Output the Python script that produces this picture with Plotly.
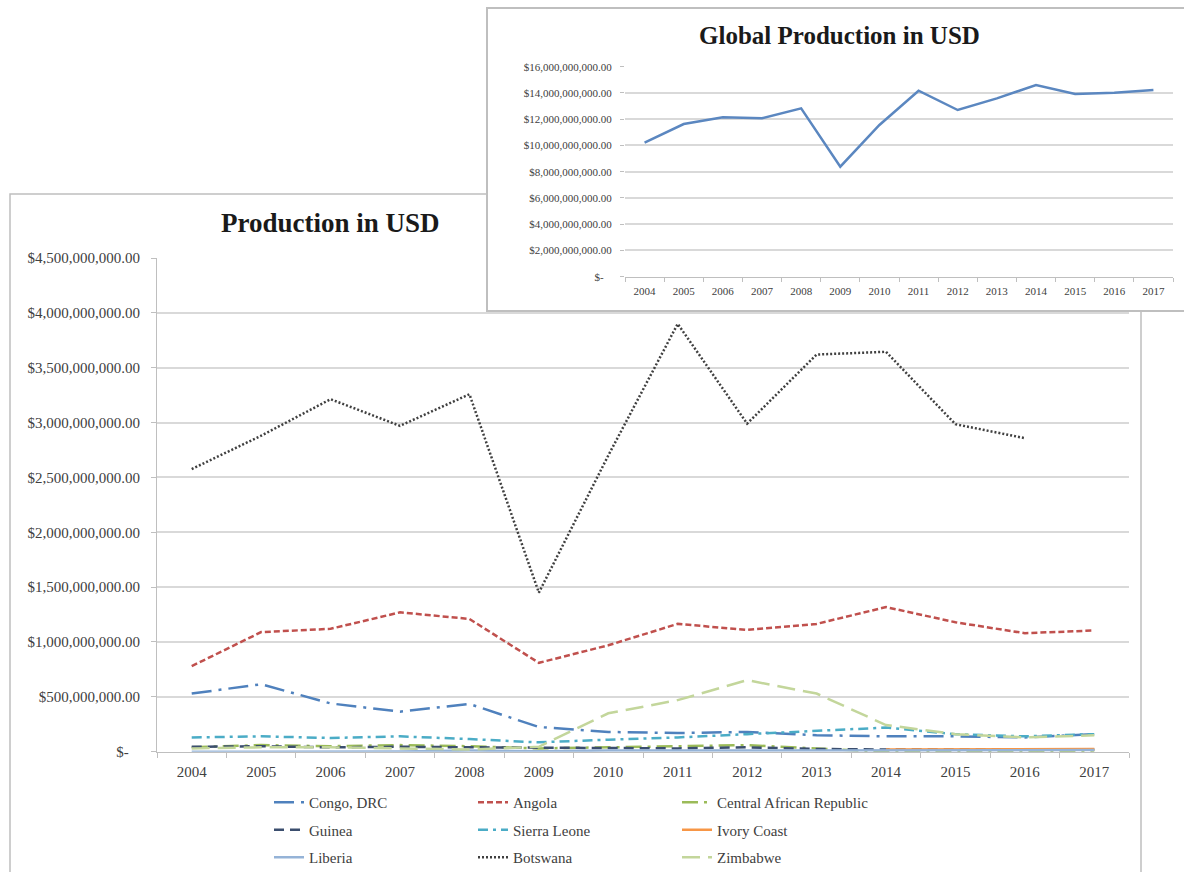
import plotly.graph_objects as go

# ---------------- data (values in billions of USD) ----------------
years = ["2004", "2005", "2006", "2007", "2008", "2009", "2010",
         "2011", "2012", "2013", "2014", "2015", "2016", "2017"]

congo = [0.53, 0.615, 0.44, 0.365, 0.435, 0.225, 0.18, 0.17, 0.18, 0.15, 0.14, 0.14, 0.13, 0.16]
angola = [0.78, 1.09, 1.12, 1.27, 1.21, 0.81, 0.97, 1.165, 1.11, 1.165, 1.318, 1.18, 1.08, 1.105]
car = [0.04, 0.06, 0.05, 0.06, 0.05, 0.03, 0.04, 0.05, 0.06, 0.03, 0.0, 0.0, 0.005, 0.01]
guinea = [0.045, 0.05, 0.04, 0.045, 0.04, 0.035, 0.03, 0.03, 0.04, 0.025, 0.02, 0.02, 0.02, 0.02]
sierra_leone = [0.13, 0.14, 0.125, 0.14, 0.115, 0.085, 0.11, 0.13, 0.16, 0.19, 0.22, 0.16, 0.14, 0.16]
ivory_coast = [None, None, None, None, None, None, None, None, None, None, 0.02, 0.02, 0.022, 0.025]
liberia = [0.0, 0.0, 0.0, 0.002, 0.01, 0.005, 0.01, 0.01, 0.015, 0.01, 0.01, 0.01, 0.01, 0.015]
botswana = [2.576, 2.88, 3.213, 2.97, 3.258, 1.45, 2.7, 3.9, 2.99, 3.62, 3.645, 2.985, 2.858, None]
zimbabwe = [0.03, 0.04, 0.04, 0.03, 0.02, 0.045, 0.35, 0.47, 0.652, 0.53, 0.243, 0.16, 0.13, 0.15]

global_prod = [10.21, 11.63, 12.14, 12.07, 12.83, 8.38, 11.56, 14.17, 12.70, 13.59, 14.6, 13.92, 14.02, 14.22]

main_ticks = [0, 0.5, 1.0, 1.5, 2.0, 2.5, 3.0, 3.5, 4.0, 4.5]
inset_ticks = [0, 2, 4, 6, 8, 10, 12, 14, 16]

# ---------------- helpers ----------------
W, H = 1184, 872
SERIF = "Liberation Serif, Times New Roman, serif"
GRID = "#D9D9D9"
AXIS = "#BFBFBF"
TXT = "#404040"


def px(x):
    return x / W


def py(y):
    return 1 - y / H


def money(v):
    if v == 0:
        return "$-\u00a0\u00a0\u00a0"
    return "${:,.2f}".format(v * 1e9)


series = [
    ("Congo, DRC", congo, "#4F81BD", "20px,7px,3px,7px", "legend"),
    ("Angola", angola, "#C0504D", "6px,3px", "legend2"),
    ("Central African Republic", car, "#9BBB59", "16px,6px,3px,6px", "legend3"),
    ("Guinea", guinea, "#3B4E6E", "10px,6px", "legend"),
    ("Sierra Leone", sierra_leone, "#4BACC6", "10px,5px,3px,5px", "legend2"),
    ("Ivory Coast", ivory_coast, "#F79646", "solid", "legend3"),
    ("Liberia", liberia, "#95B3D7", "solid", "legend"),
    ("Botswana", botswana, "#404040", "2px,2px", "legend2"),
    ("Zimbabwe", zimbabwe, "#C3D69B", "18px,8px", "legend3"),
]

fig = go.Figure()

for name, vals, color, dash, leg in series:
    fig.add_trace(go.Scatter(
        x=years, y=vals, name=name, mode="lines",
        line=dict(color=color, width=2.5, dash=dash),
        legend=leg, legendgroup=name, connectgaps=False,
        xaxis="x", yaxis="y",
    ))

# empty trace creating the inset frame subplot
fig.add_trace(go.Scatter(x=[], y=[], xaxis="x2", yaxis="y2",
                         showlegend=False, hoverinfo="skip"))

# inset: global production
fig.add_trace(go.Scatter(
    x=years, y=global_prod, name="Global", mode="lines",
    line=dict(color="#5B87C0", width=2.5),
    xaxis="x3", yaxis="y3", showlegend=False,
))

leg_common = dict(
    orientation="v", yanchor="middle", y=py(830), xanchor="left",
    font=dict(family=SERIF, size=15, color=TXT),
    bgcolor="rgba(0,0,0,0)", tracegroupgap=5, itemwidth=30,
)

fig.update_layout(
    width=W, height=H,
    margin=dict(l=0, r=0, t=0, b=0, autoexpand=False),
    paper_bgcolor="white", plot_bgcolor="white",
    font=dict(family=SERIF, color=TXT),
    legend=dict(x=px(269), **leg_common),
    legend2=dict(x=px(473), **leg_common),
    legend3=dict(x=px(677), **leg_common),
    xaxis=dict(
        domain=[px(157), px(1129)], anchor="y", type="category",
        range=[-0.5, 13.5], showline=True, linecolor=AXIS, linewidth=1,
        ticks="outside", tickson="boundaries", ticklen=5, tickcolor=AXIS,
        showgrid=False, tickfont=dict(family=SERIF, size=15, color=TXT),
        ticklabelstandoff=6, fixedrange=True,
    ),
    yaxis=dict(
        domain=[py(751.7), py(258)], anchor="x", range=[0, 4.5],
        tickvals=main_ticks, ticktext=[money(v) for v in main_ticks],
        showline=True, linecolor=AXIS, linewidth=1, ticks="outside",
        ticklen=5, tickcolor=AXIS, gridcolor=GRID, gridwidth=1.5,
        zeroline=False, tickfont=dict(family=SERIF, size=15, color=TXT),
        ticklabelstandoff=8, fixedrange=True,
    ),
    xaxis2=dict(
        domain=[px(488), 1.0], anchor="y2", range=[0, 1], showline=True,
        mirror=True, linecolor=AXIS, linewidth=1.5, showgrid=False,
        zeroline=False, showticklabels=False, ticks="", fixedrange=True,
    ),
    yaxis2=dict(
        domain=[py(310), py(9)], anchor="x2", range=[0, 1], showline=True,
        mirror=True, linecolor=AXIS, linewidth=1.5, showgrid=False,
        zeroline=False, showticklabels=False, ticks="", fixedrange=True,
    ),
    xaxis3=dict(
        domain=[px(625), px(1173)], anchor="y3", type="category",
        range=[-0.5, 13.5], showline=True, linecolor=AXIS, linewidth=1,
        ticks="outside", tickson="boundaries", ticklen=4, tickcolor=AXIS,
        showgrid=False, tickfont=dict(family=SERIF, size=11, color=TXT),
        ticklabelstandoff=4, fixedrange=True,
    ),
    yaxis3=dict(
        domain=[py(276.7), py(66.7)], anchor="x3", range=[0, 16],
        tickvals=inset_ticks, ticktext=[money(v) for v in inset_ticks],
        showline=False, ticks="outside", ticklen=4, tickcolor=AXIS,
        gridcolor=GRID, gridwidth=1.5, zeroline=False,
        tickfont=dict(family=SERIF, size=11, color=TXT),
        ticklabelstandoff=6, fixedrange=True,
    ),
    shapes=[
        dict(type="rect", xref="paper", yref="paper", layer="below",
             x0=px(10), x1=px(1141), y0=-0.02, y1=py(194),
             line=dict(color=AXIS, width=1.5), fillcolor="white"),
    ],
    annotations=[
        dict(text="<b>Production in USD</b>", x=px(330.5), y=py(223),
             xref="paper", yref="paper", showarrow=False,
             xanchor="center", yanchor="middle",
             font=dict(family=SERIF, size=27, color="#1A1A1A")),
        dict(text="<b>Global Production in USD</b>", x=px(839), y=py(35),
             xref="paper", yref="paper", showarrow=False,
             xanchor="center", yanchor="middle",
             font=dict(family=SERIF, size=25, color="#1A1A1A")),
    ],
)

fig.write_html(
    "out.html",
    config={"displayModeBar": False},
    post_script="document.body.style.margin='0px';document.body.style.overflow='hidden';",
)
